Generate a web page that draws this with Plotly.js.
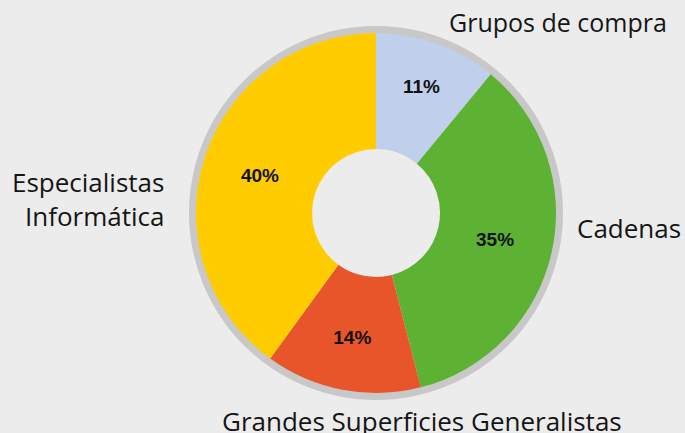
<!DOCTYPE html>
<html>
<head>
<meta charset="utf-8">
<script src="https://cdn.plot.ly/plotly-3.0.1.min.js"></script>
<style>html,body{margin:0;padding:0;background:#ececec;}#chart{width:685px;height:433px;}</style>
</head>
<body>
<div id="chart"></div>
<script>
const categories = ["Grupos de compra", "Cadenas", "Grandes Superficies Generalistas", "Especialistas<br>Informática"];
const shares = [11, 35, 14, 40];
const colors = ["#c0d0ec", "#5db233", "#e8552a", "#ffcc00"];

const W = 685, H = 433, cx = 376, cy = 213, rOuter = 180, rRing = 187;
function dom(r) {
  return {
    x: [(cx - r) / W, (cx + r) / W],
    y: [(H - cy - r) / H, (H - cy + r) / H]
  };
}

const ring = {
  type: "pie",
  values: [1],
  labels: ["ring"],
  marker: {colors: ["#c8c8c8"], line: {width: 0}},
  textinfo: "none",
  hoverinfo: "skip",
  hole: 0.9,
  sort: false,
  showlegend: false,
  domain: dom(rRing)
};

const pie = {
  type: "pie",
  values: shares,
  labels: categories,
  marker: {colors: colors, line: {width: 0}},
  hole: 64 / 180,
  sort: false,
  direction: "clockwise",
  rotation: 0,
  textinfo: "percent",
  textposition: "inside",
  insidetextorientation: "horizontal",
  texttemplate: "%{percent:.0%}",
  textfont: {family: "Liberation Sans, Arial, sans-serif", size: 19, color: "#111", weight: "bold"},
  showlegend: false,
  domain: dom(rOuter)
};

const labelFont = {family: "Open Sans, sans-serif", size: 26, color: "#151515"};
const annPos = [
  {x: 558, y: 22, xanchor: "center", align: "center", size: 25},
  {x: 629, y: 228, xanchor: "center", align: "center", size: 26},
  {x: 422, y: 421, xanchor: "center", align: "center", size: 26},
  {x: 166, y: 199, xanchor: "right", align: "right", size: 26}
];
const annotations = categories.map((c, i) => ({
  text: c,
  x: annPos[i].x / W,
  y: (H - annPos[i].y) / H,
  xref: "paper", yref: "paper",
  xanchor: annPos[i].xanchor, yanchor: "middle",
  align: annPos[i].align,
  showarrow: false,
  font: Object.assign({}, labelFont, {size: annPos[i].size})
}));

const layout = {
  width: W, height: H,
  margin: {l: 0, r: 0, t: 0, b: 0},
  paper_bgcolor: "#ececec",
  plot_bgcolor: "#ececec",
  annotations: annotations,
  showlegend: false
};

Plotly.newPlot("chart", [ring, pie], layout, {displayModeBar: false, staticPlot: true});
</script>
</body>
</html>
